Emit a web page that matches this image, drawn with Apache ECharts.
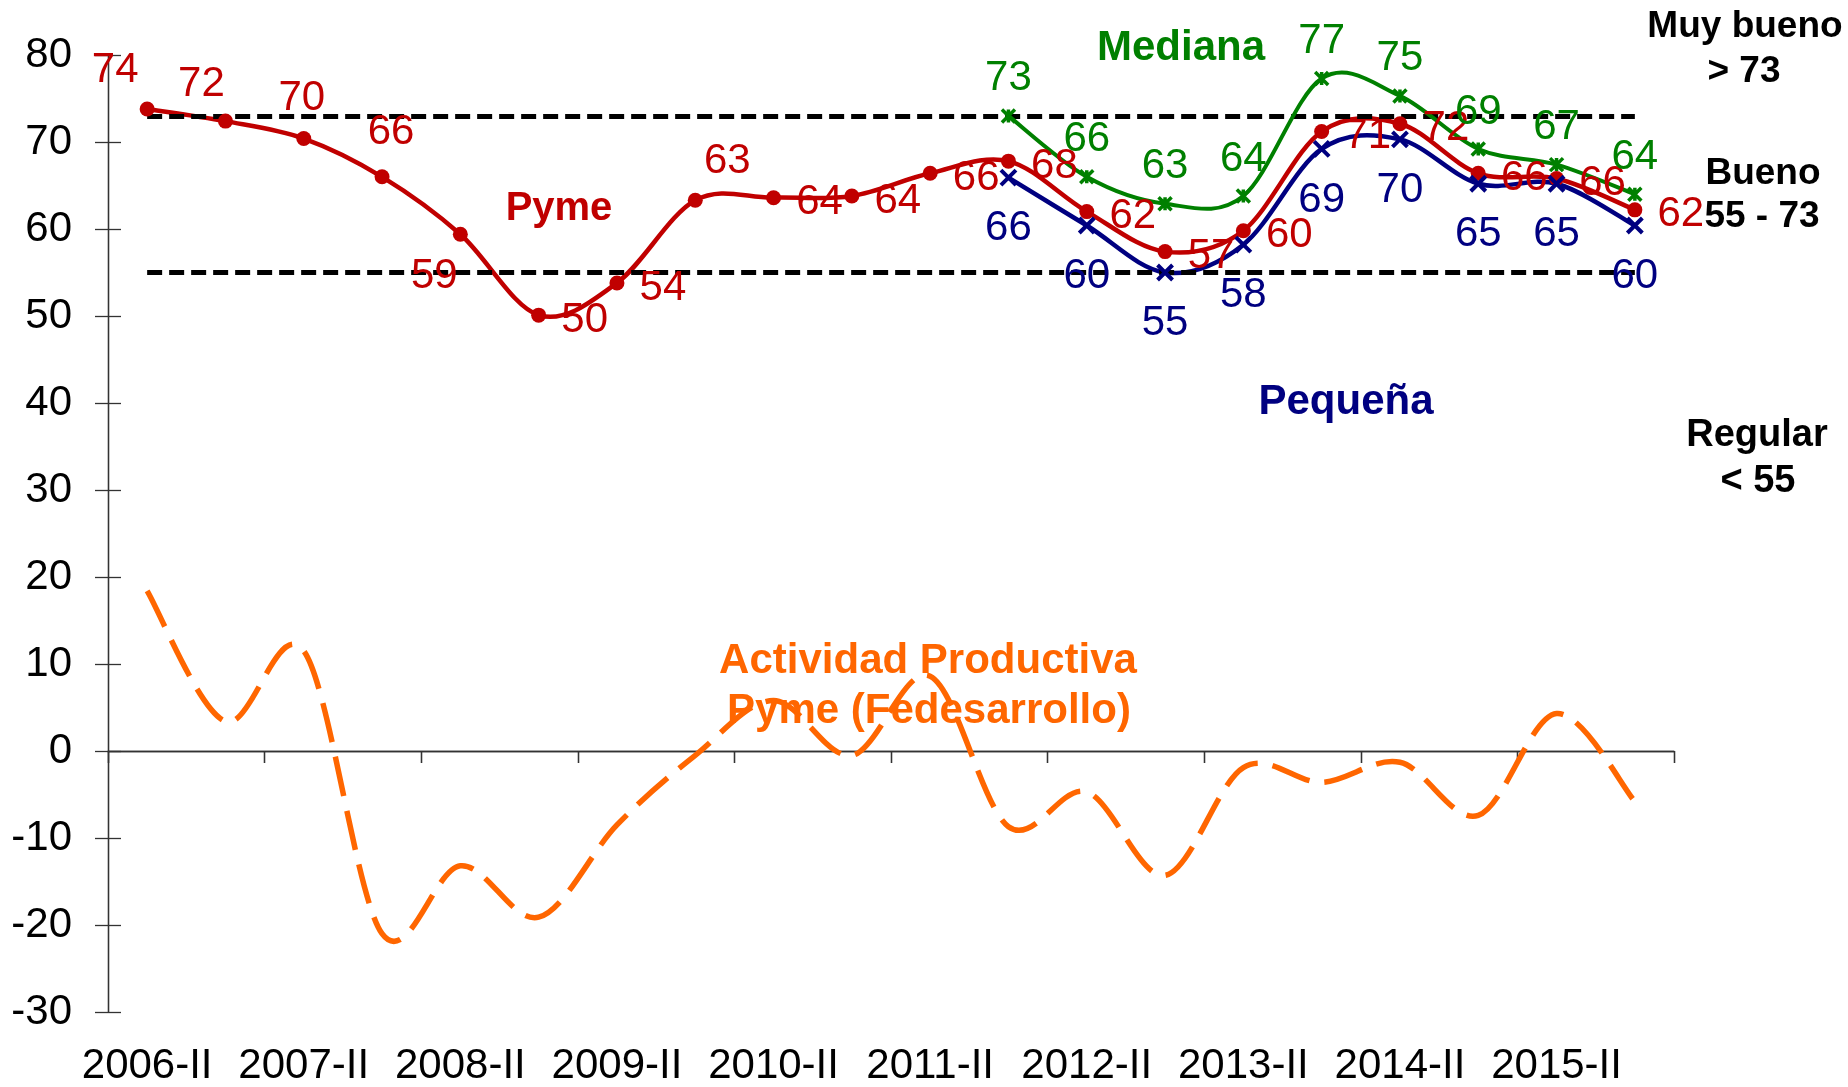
<!DOCTYPE html>
<html>
<head>
<meta charset="utf-8">
<script src="https://cdn.jsdelivr.net/npm/echarts@6/dist/echarts.min.js"></script>
<style>
  html, body { margin: 0; padding: 0; background: #fff; }
  #chart { width: 1848px; height: 1087px; }
</style>
</head>
<body>
<div id="chart"></div>
<script>
// ---- data ----
const categories = ['2006-II','2007-I','2007-II','2008-I','2008-II','2009-I','2009-II','2010-I','2010-II','2011-I',
                    '2011-II','2012-I','2012-II','2013-I','2013-II','2014-I','2014-II','2015-I','2015-II','2016-I'];
const pyme      = [73.8, 72.4, 70.4, 66.0, 59.4, 50.1, 53.8, 63.3, 63.6, 63.8, 66.4, 67.8, 62.0, 57.4, 59.8, 71.2, 72.1, 66.4, 65.8, 62.2];
const mediana   = [null, null, null, null, null, null, null, null, null, null, null, 73.0, 66.0, 62.9, 63.8, 77.3, 75.3, 69.2, 67.4, 64.0];
const pequena   = [null, null, null, null, null, null, null, null, null, null, null, 65.9, 60.4, 55.0, 58.2, 69.2, 70.3, 65.2, 65.2, 60.4];
const actividad = [18.4, 3.4, 11.5, -21.0, -13.2, -19.1, -8.5, -0.5, 5.8, -0.5, 8.6, -8.7, -4.7, -14.3, -1.9, -3.6, -1.3, -7.4, 4.3, -5.8];
const thresholds = [73, 55];
const yMin = -30, yMax = 80, yStep = 10;

// ---- styling ----
const FONT = "'Liberation Sans', Arial, sans-serif";
const RED = '#C00000', GREEN = '#008000', NAVY = '#000080', ORANGE = '#FF6600';
const AXIS = '#333333';
const LABEL_SIZE = 42;

// label placement (offsets from the point, px)
const pymeDefaultOffset = [46, 5];
const pymeOffsets = {0: [-32, -39], 1: [-24, -37], 2: [-2, -40], 3: [9, -44], 4: [-26, 42], 7: [32, -39]};

const chart = echarts.init(document.getElementById('chart'), null, {renderer: 'canvas'});

function labelled(values, color, offsetFor) {
  return values.map((v, i) => v == null ? null : ({
    value: v,
    label: {show: true, position: 'inside', offset: offsetFor(i), color: color,
            fontSize: LABEL_SIZE, fontFamily: FONT, formatter: p => Math.round(p.value)}
  }));
}

// Smooth curve (Excel-like cardinal spline) drawn through the points placed by the axes
function curveSeries(name, values, color, width, dash, z) {
  const data = values.map((v, i) => [i, v]).filter(d => d[1] != null);
  return {
    name: name, type: 'custom', z: z, silent: true, data: data,
    xAxisIndex: 0, yAxisIndex: 0, encode: {x: 0, y: 1},
    renderItem: function (params, api) {
      if (params.dataIndexInside !== 0) return null;
      const n = params.dataInsideLength;
      const p = [];
      for (let k = 0; k < n; k++) p.push(api.coord([api.value(0, k), api.value(1, k)]));
      let d = 'M' + p[0][0] + ',' + p[0][1];
      for (let k = 0; k < n - 1; k++) {
        const p0 = p[Math.max(k - 1, 0)], p1 = p[k], p2 = p[k + 1], p3 = p[Math.min(k + 2, n - 1)];
        const c1x = p1[0] + (p2[0] - p0[0]) / 6, c1y = p1[1] + (p2[1] - p0[1]) / 6;
        const c2x = p2[0] - (p3[0] - p1[0]) / 6, c2y = p2[1] - (p3[1] - p1[1]) / 6;
        d += 'C' + c1x + ',' + c1y + ',' + c2x + ',' + c2y + ',' + p2[0] + ',' + p2[1];
      }
      return {
        type: 'path', shape: {pathData: d},
        style: {fill: 'none', stroke: color, lineWidth: width, lineDash: dash || null,
                lineCap: 'butt', lineJoin: 'round'}
      };
    }
  };
}

const baseCat = {type: 'category', data: categories, boundaryGap: true, gridIndex: 0};

function txt(text, x, y, size, color) {
  return {type: 'text', x: x, y: y, z: 100,
    style: {text: text, font: 'bold ' + size + 'px ' + FONT, fill: color,
            textAlign: 'center', textVerticalAlign: 'middle', align: 'center', verticalAlign: 'middle'}};
}

const option = {
  animation: false,
  backgroundColor: '#ffffff',
  grid: {left: 108, right: 174, top: 55, bottom: 74, containLabel: false},
  xAxis: [
    Object.assign({}, baseCat, {
      axisLine: {show: true, onZero: true, onZeroAxisIndex: 0, lineStyle: {color: AXIS, width: 1.3}},
      axisTick: {show: true, interval: 1, inside: false, length: 12, lineStyle: {color: AXIS, width: 1.3}},
      axisLabel: {show: false}, splitLine: {show: false}
    }),
    Object.assign({}, baseCat, {
      axisLine: {show: true, onZero: true, onZeroAxisIndex: 0, lineStyle: {color: AXIS, width: 1.3}},
      axisTick: {show: true, interval: 1, inside: true, length: 12, lineStyle: {color: AXIS, width: 1.3}},
      axisLabel: {show: false}, splitLine: {show: false}
    }),
    Object.assign({}, baseCat, {
      position: 'bottom',
      axisLine: {show: false, onZero: false},
      axisTick: {show: false},
      axisLabel: {show: true, interval: 1, fontSize: LABEL_SIZE, fontFamily: FONT, color: '#000', margin: 33},
      splitLine: {show: false}
    })
  ],
  yAxis: [
    {type: 'value', min: yMin, max: yMax, interval: yStep,
     axisLine: {show: true, onZero: false, lineStyle: {color: AXIS, width: 1.3}},
     axisTick: {show: true, inside: false, length: 13, lineStyle: {color: AXIS, width: 1.3}},
     axisLabel: {fontSize: LABEL_SIZE, fontFamily: FONT, color: '#000', margin: 36},
     splitLine: {show: false}},
    {type: 'value', min: yMin, max: yMax, interval: yStep, position: 'left',
     axisLine: {show: true, onZero: false, lineStyle: {color: AXIS, width: 1.3}},
     axisTick: {show: true, inside: true, length: 13, lineStyle: {color: AXIS, width: 1.3}},
     axisLabel: {show: false},
     splitLine: {show: false}}
  ],
  series: [
    {
      name: 'umbrales', type: 'line', data: [], z: 1, silent: true,
      markLine: {
        silent: true, symbol: ['none', 'none'], label: {show: false},
        lineStyle: {color: '#000', width: 5, type: [15, 7]},
        emphasis: {disabled: true},
        data: thresholds.map(t => [{coord: [0, t]}, {coord: [categories.length - 1, t]}])
      }
    },
    curveSeries('Actividad Productiva Pyme (Fedesarrollo)', actividad, ORANGE, 5.5, [40, 15], 2),
    curveSeries('Pyme curve', pyme, RED, 4.5, null, 3),
    curveSeries('Pequeña curve', pequena, NAVY, 4.5, null, 4),
    curveSeries('Mediana curve', mediana, GREEN, 4, null, 5),
    {
      name: 'Pyme', type: 'line', z: 6,
      data: labelled(pyme, RED, i => pymeOffsets[i] || pymeDefaultOffset),
      symbol: 'circle', symbolSize: 15,
      itemStyle: {color: RED},
      lineStyle: {opacity: 0}
    },
    {
      name: 'Pequeña', type: 'line', z: 7,
      data: labelled(pequena, NAVY, () => [0, 51]),
      symbol: 'path://M0,0L10,10M10,0L0,10', symbolSize: 15,
      itemStyle: {color: NAVY, borderColor: NAVY, borderWidth: 4},
      lineStyle: {opacity: 0}
    },
    {
      name: 'Mediana', type: 'line', z: 8,
      data: labelled(mediana, GREEN, () => [0, -37]),
      symbol: 'path://M0,0L10,10M10,0L0,10M5,0L5,10', symbolSize: 13,
      itemStyle: {color: GREEN, borderColor: GREEN, borderWidth: 3.5},
      lineStyle: {opacity: 0}
    }
  ],
  graphic: [
    txt('Pyme', 559, 209, 40, RED),
    txt('Mediana', 1181, 48, 42, GREEN),
    txt('Pequeña', 1346, 402, 42, NAVY),
    txt('Actividad Productiva', 928, 661, 42, ORANGE),
    txt('Pyme (Fedesarrollo)', 929, 711, 42, ORANGE),
    txt('Muy bueno', 1745, 27, 37, '#000'),
    txt('> 73', 1744, 72, 37, '#000'),
    txt('Bueno', 1763, 174, 37, '#000'),
    txt('55 - 73', 1762, 217, 37, '#000'),
    txt('Regular', 1757, 436, 38, '#000'),
    txt('< 55', 1758, 482, 38, '#000')
  ]
};
chart.setOption(option);
</script>
</body>
</html>
